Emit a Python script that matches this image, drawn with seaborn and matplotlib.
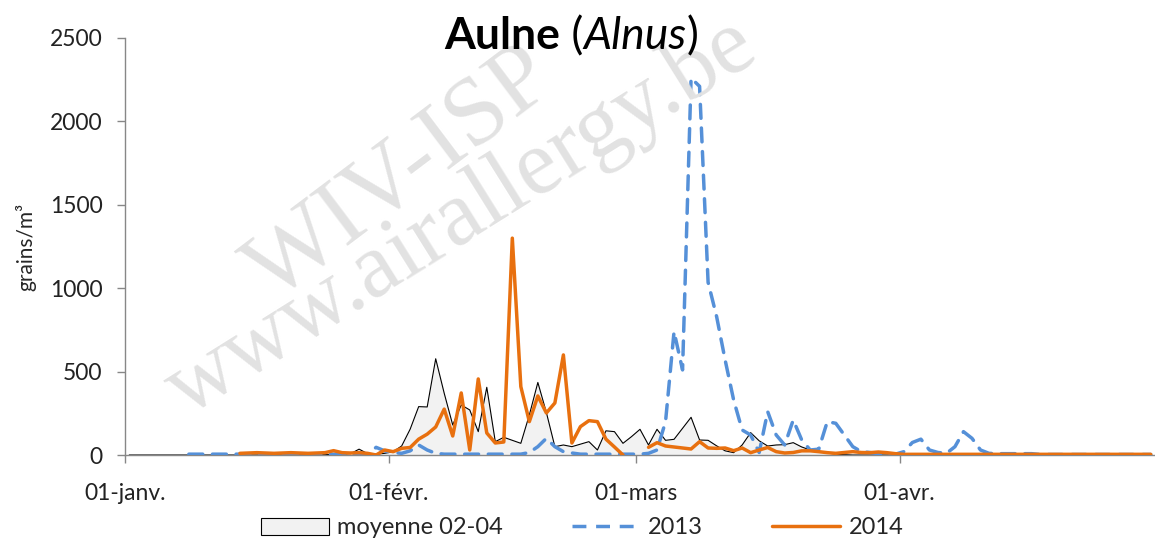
import numpy as np
import pandas as pd
import matplotlib
matplotlib.use("Agg")
import matplotlib.pyplot as plt
import seaborn as sns
from matplotlib.patches import Patch
from matplotlib.lines import Line2D

nan = np.nan

# day 0 = 01-janv. (366-day calendar: February has 29 days)
month_ticks = [0, 31, 60, 91]
month_labels = ["01-janv.", "01-févr.", "01-mars", "01-avr."]
y_ticks = [0, 500, 1000, 1500, 2000, 2500]

# mean 2002-2004, days 0..120
mean_02_04 = ([0] * 23 +
              [2, 4, 5, 8, 35, 8, 5, 10, 20,
               54, 155, 290, 288, 577, 370, 180, 300, 270, 140,
               406, 80, 106, 88, 70, 240, 435, 255, 50, 60,
               50, 65, 80, 30, 145, 140, 70, 110, 154, 60,
               154, 88, 94, 160, 226, 90, 88, 55, 25, 14,
               60, 134, 85, 54, 60, 62, 74, 48, 30, 20,
               12, 5, 2] +
              [0] * 36)

pollen_2013 = ([nan] * 7 +
               [5] * 22 +
               [46, 25, 15, 10, 25, 60, 30, 10] +
               [5] * 10 +
               [15, 50, 100, 50, 20, 12] +
               [5] * 8 +
               [10, 30, 200, 740, 510, 2260, 2210, 1035, 830, 570,
                330, 150, 120, 15, 260, 120, 60, 210, 90, 30,
                35, 200, 190, 120, 50, 20, 15, 8, 5, 5,
                20, 75, 95, 30, 15, 10, 50, 140, 100, 30,
                10, 8, 8, 8, 8, 8] +
               [3] * 14)

pollen_2014 = ([nan] * 13 +
               [10, 12, 14, 12, 10, 12, 14, 12, 10, 12,
                14, 26, 14, 12, 14, 10, 0, 30, 20, 40,
                45, 95, 125, 168, 275, 114, 372, 30, 456, 132,
                72, 78, 1300, 410, 200, 354, 252, 312, 600, 72,
                170, 206, 200, 95, 48, 0, nan, nan, 46, 74,
                54, 48, 42, 36, 80, 42, 40, 42, 26, 42,
                14, 30, 45, 20, 12, 15, 25, 25, 20, 14,
                10, 15, 20, 15, 14, 18, 14, 8] +
               [4] * 30)

days = np.arange(len(mean_02_04))
df = pd.DataFrame({"day": days + 0.5, "mean": mean_02_04,
                   "y2013": pollen_2013, "y2014": pollen_2014})
# split 2014 into segments so the gap stays a gap
df["seg2014"] = df["y2014"].isna().cumsum()

sns.set_theme(style="white")
plt.rcParams["font.family"] = ["Lato", "DejaVu Sans"]

c_orange = "#E8700F"
c_blue = "#5590D8"
c_grey = "#878787"

fig = plt.figure(figsize=(11.55, 5.44), dpi=100)
ax = fig.add_axes([125 / 1155, 1 - 455 / 544, 1 - 125 / 1155, (455 - 38) / 544])
ax.set_facecolor("none")

# watermark
wm = dict(family=["Liberation Serif", "DejaVu Serif"], color="#e2e2e2",
          ha="center", va="center", zorder=0, transform=fig.transFigure)
fig.text(402 / 1155, 1 - 176 / 544, "WIV-ISP", fontsize=70, rotation=37, **wm)
fig.text(462 / 1155, 1 - 218 / 544, "www.airallergy.be", fontsize=67,
         rotation=32, **wm)

ax.fill_between(df["day"], df["mean"], color="#f2f2f2", zorder=1, linewidth=0)
sns.lineplot(data=df, x="day", y="mean", color="black", linewidth=0.8,
             ax=ax, zorder=2)
sns.lineplot(data=df.dropna(subset=["y2013"]), x="day", y="y2013",
             color=c_blue, linewidth=2.5, ax=ax, zorder=3)
ax.lines[-1].set_dashes((4, 2.8))
ax.lines[-1].set_dash_capstyle("round")
sns.lineplot(data=df.dropna(subset=["y2014"]), x="day", y="y2014",
             units="seg2014", estimator=None, color=c_orange,
             linewidth=2.5, ax=ax, zorder=4)

ax.set_xlim(0, 121)
ax.set_ylim(0, 2500)
ax.set_xticks(month_ticks)
ax.set_xticklabels(month_labels)
ax.set_yticks(y_ticks)
ax.set_xlabel("")
ax.set_ylabel("grains/m³", fontsize=15, labelpad=10)
for s in ["top", "right"]:
    ax.spines[s].set_visible(False)
for s in ["left", "bottom"]:
    ax.spines[s].set_color(c_grey)
    ax.spines[s].set_linewidth(1)
ax.tick_params(axis="both", which="both", direction="out", length=6,
               width=1, color=c_grey, labelsize=16.5, labelcolor="#222222",
               bottom=True, left=True)
ax.tick_params(axis="x", pad=14)
ax.tick_params(axis="y", pad=10)

# title: bold + italic pieces centred together
fig.canvas.draw()
r = fig.canvas.get_renderer()
pieces = [("Aulne", "bold", "normal"), (" (", "normal", "normal"),
          ("Alnus", "normal", "italic"), (")", "normal", "normal")]
texts = [fig.text(0, 1 - 49 / 544, s, fontsize=32, weight=w, style=st,
                  color="black", va="baseline") for s, w, st in pieces]
widths = [t.get_window_extent(r).width for t in texts]
x0 = 571 - sum(widths) / 2
for t, w in zip(texts, widths):
    t.set_x(x0 / 1155)
    x0 += w

handles = [Patch(facecolor="#f2f2f2", edgecolor="black", linewidth=0.8),
           Line2D([], [], color=c_blue, linewidth=2.5, dashes=(4, 2.8)),
           Line2D([], [], color=c_orange, linewidth=2.5)]
fig.legend(handles, ["moyenne 02-04", "2013", "2014"], loc="center",
           bbox_to_anchor=(582 / 1155, 1 - 528 / 544), ncol=3, frameon=False,
           fontsize=17, handlelength=2.9, handleheight=0.75,
           handletextpad=0.35, columnspacing=2.9)

fig.savefig("out.png", dpi=100)
